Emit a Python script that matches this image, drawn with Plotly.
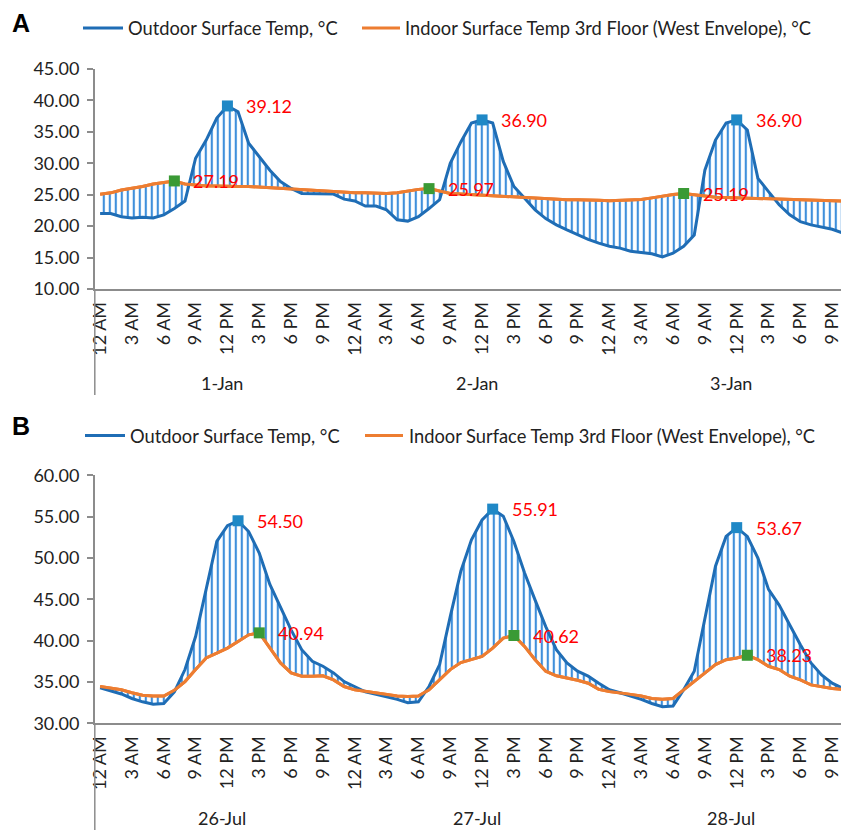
import plotly.graph_objects as go

# ---------------- data ----------------
hour_labels = ["12 AM", "3 AM", "6 AM", "9 AM", "12 PM", "3 PM", "6 PM", "9 PM"]
days_a = ["1-Jan", "2-Jan", "3-Jan"]
days_b = ["26-Jul", "27-Jul", "28-Jul"]

outdoor_a = [22.0, 22.0, 21.5, 21.3, 21.4, 21.3, 21.8, 22.8, 24.0, 30.8, 33.7, 37.2,
             39.12, 38.2, 33.2, 31.0, 28.9, 27.1, 26.0, 25.2, 25.2, 25.1, 25.1, 24.3,
             24.0, 23.2, 23.2, 22.6, 21.0, 20.8, 21.5, 22.8, 24.2, 30.0, 33.4, 36.4,
             36.90, 36.4, 30.3, 26.3, 24.4, 22.6, 21.2, 20.2, 19.4, 18.6, 17.9, 17.3,
             16.8, 16.5, 16.0, 15.8, 15.6, 15.1, 15.7, 16.8, 18.6, 28.9, 33.7, 36.4,
             36.90, 35.3, 27.6, 25.5, 23.4, 21.8, 20.7, 20.2, 19.9, 19.5, 18.9, 18.6]
indoor_a = [25.06, 25.3, 25.75, 26.0, 26.3, 26.7, 27.0, 27.19, 26.7, 26.5, 26.4, 26.4,
            26.3, 26.3, 26.3, 26.2, 26.1, 26.0, 25.9, 25.75, 25.6, 25.5, 25.5, 25.4,
            25.3, 25.3, 25.2, 25.2, 25.3, 25.6, 25.85, 25.97, 25.6, 25.2, 25.1, 25.0,
            24.9, 24.8, 24.7, 24.65, 24.6, 24.5, 24.4, 24.3, 24.2, 24.2, 24.1, 24.1,
            24.05, 24.1, 24.2, 24.25, 24.5, 24.8, 25.05, 25.19, 25.0, 24.7, 24.6, 24.55,
            24.5, 24.45, 24.4, 24.35, 24.3, 24.25, 24.2, 24.15, 24.1, 24.05, 24.0, 23.95]

outdoor_b = [34.3, 33.9, 33.55, 33.0, 32.6, 32.3, 32.4, 33.8, 36.5, 40.5, 46.2, 52.0,
             53.9, 54.50, 53.2, 50.6, 46.8, 44.1, 41.3, 38.9, 37.5, 36.9, 36.1, 35.05,
             34.4, 33.8, 33.5, 33.2, 32.9, 32.5, 32.6, 34.45, 37.1, 42.9, 48.4, 52.2,
             54.6, 55.91, 55.05, 52.0, 48.2, 44.9, 41.7, 38.9, 37.3, 36.3, 35.7, 34.85,
             34.05, 33.7, 33.3, 32.9, 32.4, 32.0, 32.1, 34.05, 36.3, 42.5, 49.0, 52.6,
             53.67, 52.6, 50.0, 46.2, 44.3, 41.9, 39.5, 37.3, 35.85, 34.85, 34.24, 33.85]
indoor_b = [34.45, 34.25, 34.05, 33.7, 33.4, 33.3, 33.3, 34.0, 35.05, 36.5, 37.9, 38.5,
            39.1, 39.9, 40.7, 40.94, 39.1, 37.3, 36.1, 35.7, 35.7, 35.75, 35.25, 34.45,
            34.05, 33.85, 33.65, 33.45, 33.3, 33.25, 33.3, 34.05, 35.25, 36.5, 37.35, 37.7,
            38.1, 39.1, 40.3, 40.62, 39.3, 37.7, 36.3, 35.75, 35.5, 35.2, 34.85, 34.1,
            33.85, 33.7, 33.5, 33.3, 33.0, 32.9, 33.0, 34.05, 35.05, 36.1, 37.1, 37.7,
            37.9, 38.23, 37.7, 36.9, 36.5, 35.7, 35.25, 34.65, 34.4, 34.2, 34.1, 34.05]

name_out = "Outdoor Surface Temp, °C"
name_in = "Indoor Surface Temp 3rd Floor (West Envelope), °C"

# ---------------- style ----------------
W, H = 849, 830          # browser window
OFF = 8                  # default page body margin
FW, FH = W - OFF, H - OFF
FONT = "Lato, 'Open Sans', sans-serif"
C_OUT = "#1f6db5"
C_IN = "#ed7d31"
C_HATCH = "#3f8fdb"
C_MAXOUT = "#1f88c6"
C_MAXIN = "#3a9a35"
C_AXIS = "#8c8c8c"
TXT = "#222222"
AX_X = 94.8          # window pixel x of the value axis
PX_PER_H = 10.61     # pixel width of one hourly category


def px(x):
    return (x - OFF) / FW


def py(y):
    return 1 - (y - OFF) / FH


fig = go.Figure()

hours = list(range(72))
tickvals = list(range(0, 72, 3))
ticktext = [hour_labels[(v % 24) // 3] for v in tickvals]

panels = [
    dict(out=outdoor_a, ind=indoor_a, days=days_a, xa="x", ya="y",
         top=69, bottom=289, axis_end=395, day_y=383, leg_y=28, letter="A", letter_y=23,
         leg=[(83, 123, 126), (362, 400, 403)]),
    dict(out=outdoor_b, ind=indoor_b, days=days_b, xa="x2", ya="y2",
         top=475.3, bottom=723.3, axis_end=830, day_y=818, leg_y=435.5, letter="B", letter_y=426,
         leg=[(85, 125, 128), (365, 403, 407)]),
]

shapes = []
annotations = []

for p in panels:
    xa, ya = p["xa"], p["ya"]
    # base (indoor) trace for the fill
    fig.add_trace(go.Scatter(x=hours, y=p["ind"], xaxis=xa, yaxis=ya, mode="lines",
                             line=dict(color=C_IN, width=3), showlegend=False,
                             hoverinfo="skip"))
    # outdoor with hatched fill to indoor
    fig.add_trace(go.Scatter(x=hours, y=p["out"], xaxis=xa, yaxis=ya, mode="lines",
                             line=dict(color=C_OUT, width=3), fill="tonexty",
                             fillcolor="rgba(0,0,0,0)",
                             fillpattern=dict(shape="|", size=6, solidity=0.36,
                                              fgcolor=C_HATCH, bgcolor="rgba(0,0,0,0)",
                                              fgopacity=1),
                             showlegend=False, name=name_out))
    # indoor line on top
    fig.add_trace(go.Scatter(x=hours, y=p["ind"], xaxis=xa, yaxis=ya, mode="lines",
                             line=dict(color=C_IN, width=3), showlegend=False,
                             name=name_in))
    # daily maxima markers + labels
    for series, color in ((p["out"], C_MAXOUT), (p["ind"], C_MAXIN)):
        mx, my = [], []
        for d in range(3):
            seg = series[d * 24:(d + 1) * 24]
            k = max(range(24), key=lambda j: seg[j])
            mx.append(d * 24 + k)
            my.append(seg[k])
        fig.add_trace(go.Scatter(x=mx, y=my, xaxis=xa, yaxis=ya, mode="markers",
                                 marker=dict(symbol="square", size=11, color=color),
                                 showlegend=False, cliponaxis=False))
        for xv, yv in zip(mx, my):
            annotations.append(dict(x=xv, y=yv, xref=xa, yref=ya, text=f"{yv:.2f}",
                                    showarrow=False, xanchor="left", yanchor="middle",
                                    xshift=17, font=dict(color="#ff0000", size=18,
                                                         family=FONT)))
    # day labels
    for d, lab in enumerate(p["days"]):
        annotations.append(dict(x=d * 24 + 11.5, y=py(p["day_y"]), xref=xa, yref="paper",
                                text=lab, showarrow=False, xanchor="center",
                                yanchor="middle", font=dict(size=18, color=TXT, family=FONT)))
    # axis extension below the plot
    shapes.append(dict(type="line", xref="paper", yref="paper", x0=px(AX_X), x1=px(AX_X),
                       y0=py(p["bottom"]), y1=py(p["axis_end"]),
                       line=dict(color=C_AXIS, width=1.5)))
    # manual legend
    for (x0, x1, xt), col, nm in zip(p["leg"], (C_OUT, C_IN), (name_out, name_in)):
        shapes.append(dict(type="line", xref="paper", yref="paper", x0=px(x0), x1=px(x1),
                           y0=py(p["leg_y"]), y1=py(p["leg_y"]),
                           line=dict(color=col, width=3)))
        annotations.append(dict(x=px(xt), y=py(p["leg_y"]), xref="paper", yref="paper",
                                text=nm, showarrow=False, xanchor="left", yanchor="middle",
                                font=dict(size=18.3, color=TXT, family=FONT)))
    # panel letter
    annotations.append(dict(x=px(10), y=py(p["letter_y"]), xref="paper", yref="paper",
                            text=f"<b>{p['letter']}</b>", showarrow=False, xanchor="left",
                            yanchor="middle",
                            font=dict(size=25, color="#000000", family="Arial, Liberation Sans")))

x_end = -0.5 + (W - AX_X) / PX_PER_H

xaxis_common = dict(range=[-0.5, x_end], domain=[px(AX_X), 1], tickmode="array",
                    tickvals=tickvals, ticktext=ticktext, tickangle=-90, ticks="",
                    showline=True, linecolor=C_AXIS, linewidth=1.5, showgrid=False,
                    zeroline=False, automargin=False, ticklabelstandoff=4,
                    tickfont=dict(size=18, color=TXT, family=FONT))
yaxis_common = dict(showline=True, linecolor=C_AXIS, linewidth=1.5, ticks="outside",
                    ticklen=6, tickcolor=C_AXIS, tickwidth=1.5, showgrid=False,
                    zeroline=False, automargin=False, tickformat=".2f", dtick=5,
                    ticklabelstandoff=4,
                    tickfont=dict(size=18, color=TXT, family=FONT))

fig.update_layout(
    width=FW, height=FH, margin=dict(l=0, r=0, t=0, b=0),
    paper_bgcolor="white", plot_bgcolor="white", showlegend=False,
    xaxis=dict(**xaxis_common, anchor="y"),
    yaxis=dict(**yaxis_common, range=[10, 45], anchor="x",
               domain=[py(289), py(69)]),
    xaxis2=dict(**xaxis_common, anchor="y2"),
    yaxis2=dict(**yaxis_common, range=[30, 60], anchor="x2",
                domain=[py(723.3), py(475.3)]),
    shapes=shapes, annotations=annotations,
    font=dict(family=FONT, color=TXT),
)

fig.write_html("out.html")
